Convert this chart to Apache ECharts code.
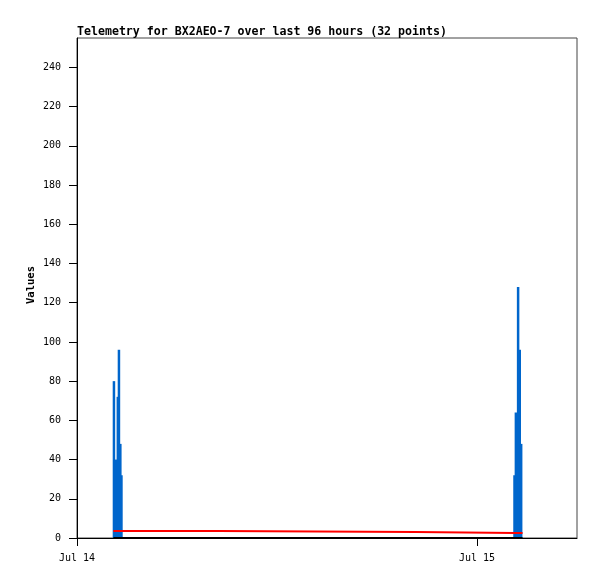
<!DOCTYPE html>
<html><head><meta charset="utf-8">
<script src="https://cdn.jsdelivr.net/npm/echarts@6/dist/echarts.min.js"></script>
<style>html,body{margin:0;padding:0;background:#fff}#c{width:597px;height:579px}</style>
</head><body><div id="c"></div>
<script>
// Data (times are local, Jul 14-15)
var startTime = '2024-07-14T00:00';
var endTime = '2024-07-15T06:00';
var xTickTimes = ['2024-07-14T00:00', '2024-07-15T00:00'];
var xTickLabels = ['Jul 14', 'Jul 15'];
var yTicks = [0, 20, 40, 60, 80, 100, 120, 140, 160, 180, 200, 220, 240];

var blueTimes = ['2024-07-14T02:13', '2024-07-14T02:21', '2024-07-14T02:27', '2024-07-14T02:31', '2024-07-14T02:36', '2024-07-14T02:40',
                 '2024-07-15T02:15', '2024-07-15T02:20', '2024-07-15T02:28', '2024-07-15T02:34', '2024-07-15T02:39'];
var blueValues = [80, 40, 72, 96, 48, 32, 32, 64, 128, 96, 48];

var redTimes = ['2024-07-14T02:11', '2024-07-14T02:40', '2024-07-14T08:30', '2024-07-14T20:20', '2024-07-15T02:15', '2024-07-15T02:44'];
var redValues = [3.6, 3.6, 3.1, 2.6, 2.6, 2.6];

var blackTimes = ['2024-07-14T02:11', '2024-07-15T02:44'];
var blackValues = [0, 0];

var t0 = new Date(startTime).getTime();
function hrs(s) { return (new Date(s).getTime() - t0) / 3600000; }
function pairs(ts, vs) { return ts.map(function (t, i) { return [hrs(t), vs[i]]; }); }
var tickHrs = xTickTimes.map(hrs);

var mono = 'DejaVu Sans Mono';
var chart = echarts.init(document.getElementById('c'));
chart.setOption({
  animation: false,
  backgroundColor: '#fff',
  title: {
    text: 'Telemetry for BX2AEO-7 over last 96 hours (32 points)',
    left: 77, top: 26, padding: 0,
    textStyle: { fontFamily: mono, fontSize: 11.6, fontWeight: 'bold', color: '#000' }
  },
  graphic: [{
    type: 'text', x: 31, y: 285, rotation: Math.PI / 2,
    style: { text: 'Values', fontFamily: mono, fontSize: 10.5, fontWeight: 'bold', fill: '#000', align: 'center', verticalAlign: 'middle' }
  }],
  grid: { left: 77, top: 38, right: 20, bottom: 41, show: true, borderColor: '#444', borderWidth: 1 },
  xAxis: {
    type: 'value', min: 0, max: hrs(endTime), interval: 24,
    axisLine: { lineStyle: { color: '#000', width: 1 } },
    axisTick: { show: true, length: 8, lineStyle: { color: '#000' }, customValues: tickHrs },
    axisLabel: {
      customValues: tickHrs, margin: 15, color: '#000', fontFamily: mono, fontSize: 10,
      formatter: function (v) { var i = tickHrs.indexOf(v); return i >= 0 ? xTickLabels[i] : ''; }
    },
    splitLine: { show: false }
  },
  yAxis: {
    type: 'value', min: 0, max: 255, interval: 20,
    axisLine: { show: true, lineStyle: { color: '#000', width: 1 } },
    axisTick: { show: true, length: 8, lineStyle: { color: '#000' }, customValues: yTicks },
    axisLabel: { customValues: yTicks, margin: 16, color: '#000', fontFamily: mono, fontSize: 10 },
    splitLine: { show: false }
  },
  series: [
    { type: 'bar', data: pairs(blueTimes, blueValues), barWidth: 2.5, itemStyle: { color: '#0066cc' }, z: 2 },
    { type: 'line', step: 'end', data: pairs(redTimes, redValues), symbol: 'none', lineStyle: { color: '#ff0000', width: 2 }, z: 3 },
    { type: 'line', data: pairs(blackTimes, blackValues), symbol: 'none', lineStyle: { color: '#000', width: 2 }, z: 4 }
  ]
});
</script></body></html>
